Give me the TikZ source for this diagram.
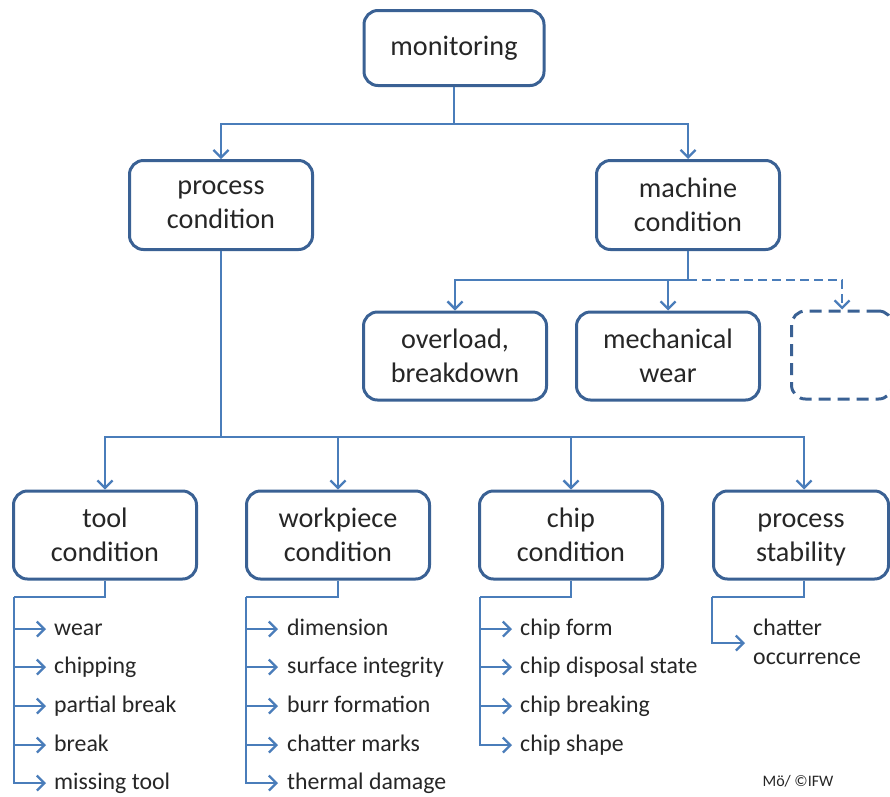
\documentclass[tikz,border=0pt]{standalone}
\usepackage{fontspec}
\setmainfont{Carlito}
\usetikzlibrary{arrows.meta}
\definecolor{boxblue}{HTML}{3A6194}
\definecolor{linkblue}{HTML}{4A7DBA}
\definecolor{txt}{HTML}{262626}
\tikzset{
  box/.style={draw=boxblue, line width=3pt, rounded corners=14pt, fill=white,
    minimum width=183pt, minimum height=88pt, align=center, inner sep=0pt,
    font=\fontsize{28.2}{34}\selectfont, text=txt},
  link/.style={draw=linkblue, line width=2.5pt, -{Straight Barb[length=7.5pt,width=15pt,line width=2.3pt]}},
  plain/.style={draw=linkblue, line width=2.5pt},
  item/.style={anchor=base west, inner sep=0pt, font=\fontsize{23.8}{29}\selectfont, text=txt},
}
\begin{document}
\begin{tikzpicture}[x=1pt, y=-1pt]
  \useasboundingbox (0,0) rectangle (890,796);
  \fill[white] (0,0) rectangle (890,796);

  % boxes
  \node[box, minimum width=180pt, minimum height=75pt] (mon) at (454,48) {monitoring};
  \node[box, minimum height=89pt] (proc) at (221,205) {process\\condition};
  \node[box, minimum height=89pt] (mach) at (688,205) {machine\\condition};
  \node[box] (over) at (455,356) {overload,\\breakdown};
  \node[box] (mech) at (668,356) {mechanical\\wear};
  \node[box, dash pattern=on 12pt off 7pt, minimum width=101pt] (blank) at (842,355) {};
  \node[box] (tool) at (105,535) {tool\\condition};
  \node[box] (work) at (338,535) {workpiece\\condition};
  \node[box] (chip) at (571,535) {chip\\condition};
  \node[box, minimum width=175pt] (stab) at (801,535)
    {\vphantom{l}process\\\raisebox{0pt}[\height][0pt]{stability}};

  % junctions
  \coordinate (j1) at (454,124);
  \coordinate (j2) at (688,280);
  \coordinate (j3) at (221,437);

  \draw[plain] (mon.south) -- (j1);
  \draw[link] (j1) -| (proc.north);
  \draw[link] (j1) -| (mach.north);

  \draw[plain] (mach.south) -- (j2);
  \draw[link] (j2) -| (over.north);
  \draw[link] (j2) -| (mech.north);
  \draw[link, dash pattern=on 9pt off 5pt] (j2) -| (blank.north);

  \draw[plain] (proc.south) -- (j3);
  \draw[link] (j3) -| (tool.north);
  \draw[link] (j3) -| (work.north);
  \draw[link] (j3) -| (chip.north);
  \draw[link] (j3) -| ([xshift=3pt]stab.north);

  % tool condition list
  \coordinate (tb) at (14,597);
  \draw[plain] (tool.south) |- (tb);
  \foreach \y/\t [count=\i] in {629/wear, 667/chipping, 706/partial break, 745/break, 783/missing tool}{
    \coordinate (ta\i) at (46,\y);
    \node[item] (ti\i) at (54,\y+6) {\t};
    \draw[link] (tb) |- (ta\i);
  }

  % workpiece condition list
  \coordinate (wb) at (246,597);
  \draw[plain] (work.south) |- (wb);
  \foreach \y/\t [count=\i] in {629/dimension, 667/surface integrity, 706/burr formation, 745/chatter marks, 783/thermal damage}{
    \coordinate (wa\i) at (278,\y);
    \node[item] (wi\i) at (287,\y+6) {\t};
    \draw[link] (wb) |- (wa\i);
  }

  % chip condition list
  \coordinate (cb) at (480,597);
  \draw[plain] (chip.south) |- (cb);
  \foreach \y/\t [count=\i] in {629/chip form, 667/chip disposal state, 706/chip breaking, 745/chip shape}{
    \coordinate (ca\i) at (512,\y);
    \node[item] (ci\i) at (520,\y+6) {\t};
    \draw[link] (cb) |- (ca\i);
  }

  % process stability list
  \coordinate (sb) at (712,597);
  \coordinate (sa) at (745,643);
  \draw[plain] ([xshift=3pt]stab.south) |- (sb);
  \draw[link] (sb) |- (sa);
  \node[item] (si1) at (753,635) {chatter};
  \node[item] (si2) at (753,664) {occurrence};

  % credit
  \node[anchor=base, inner sep=0pt, font=\fontsize{16}{19}\selectfont, text=txt] (credit) at (798,786) {Mö/ ©IFW};
\end{tikzpicture}
\end{document}
